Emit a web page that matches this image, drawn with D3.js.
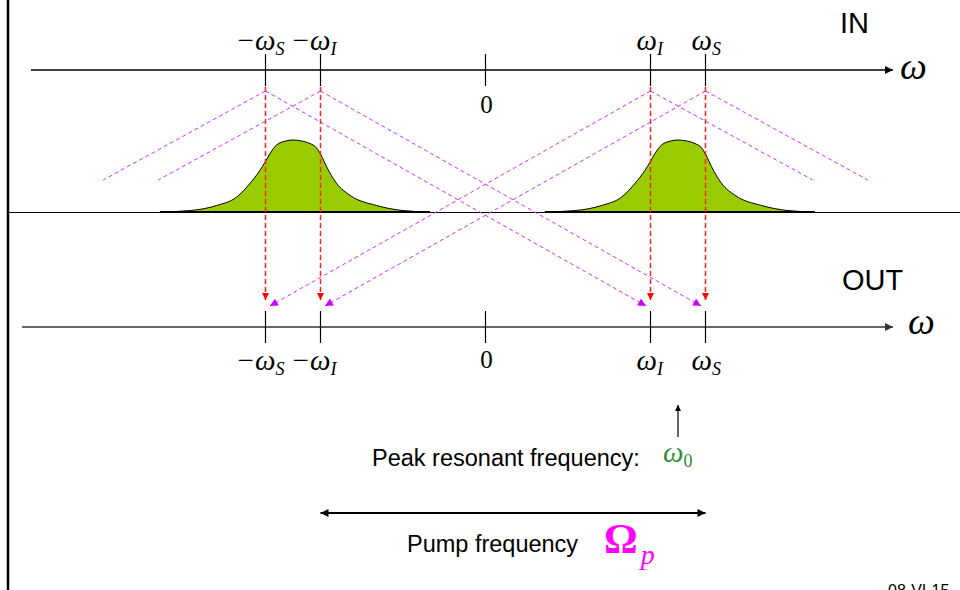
<!DOCTYPE html>
<html>
<head>
<meta charset="utf-8">
<script src="https://cdn.jsdelivr.net/npm/d3@7"></script>
<style>
  body { margin: 0; background: #fff; }
  svg { display: block; }
  .serif { font-family: "Liberation Serif", "Times New Roman", serif; }
  .sans { font-family: "Liberation Sans", Arial, sans-serif; }
</style>
</head>
<body>
<svg id="chart"></svg>
<script>
const width = 960;
const height = 590;

// frequencies in arbitrary units (omega_I = 3, omega_S = 4)
const ticks = [
    { v: -4, label: "\u2212\u03c9", sub: "S" },
    { v: -3, label: "\u2212\u03c9", sub: "I" },
    { v: 0, label: "0" },
    { v: 3, label: "\u03c9", sub: "I" },
    { v: 4, label: "\u03c9", sub: "S" }
];
const signalFreqs = [-4, -3, 3, 4];
const bumpCenters = [-3.5, 3.5];
// spectrum profile: offset from centre (units) and relative height
const bumpOffsets = [-2.42, -1.87, -1.39, -1.02, -0.78, -0.60, -0.51, -0.42, -0.30, -0.11, 0, 0.13, 0.31, 0.43, 0.51, 0.61, 0.79, 1.04, 1.52, 2.0, 2.49];
const bumpHeights = [0, 0.02, 0.09, 0.21, 0.40, 0.58, 0.69, 0.81, 0.93, 0.99, 1.0, 0.99, 0.95, 0.89, 0.79, 0.63, 0.40, 0.23, 0.09, 0.02, 0];
// idler conversion: input frequency -> output frequency
const conversions = [
    { from: -4, to: 3 },
    { from: -3, to: 4 },
    { from: 3, to: -4 },
    { from: 4, to: -3 }
];
const omega0 = 3.5;
const pumpSpan = [-3, 4];

const yIn = 70, yOut = 327, yBase = 212;
const yApex = 91, yExt = 180, yRedEnd = 300, yMagEnd = 306;

const x = d3.scaleLinear().domain([-8, 8]).range([45.5, 925.5]);
const y = d3.scaleLinear().domain([0, 1]).range([yBase, 140]);

const svg = d3.select("#chart")
    .attr("width", width)
    .attr("height", height);

const defs = svg.append("defs");
function marker(id, color, w, h) {
    defs.append("marker")
        .attr("id", id)
        .attr("viewBox", "0 0 10 10")
        .attr("refX", 10).attr("refY", 5)
        .attr("markerUnits", "userSpaceOnUse")
        .attr("markerWidth", w).attr("markerHeight", h)
        .attr("orient", "auto-start-reverse")
        .append("path")
        .attr("d", "M0,0L10,5L0,10Z")
        .attr("fill", color);
}
marker("arrowBlack", "#000", 11, 8);
marker("arrowGray", "#333", 11, 8);
marker("arrowPump", "#000", 10, 8);
marker("arrowRed", "#ff0000", 8, 7);
marker("arrowMag", "#cc00ff", 9, 8);
marker("arrowSmall", "#000", 8, 6);

// frame
svg.append("line")
    .attr("x1", 8).attr("x2", 8).attr("y1", 0).attr("y2", height)
    .attr("stroke", "#000").attr("stroke-width", 2.5);
svg.append("line")
    .attr("x1", 9).attr("x2", width).attr("y1", yBase + 0.5).attr("y2", yBase + 0.5)
    .attr("stroke", "#000").attr("stroke-width", 1);

// magenta dashed conversion lines
const magGroup = svg.append("g").attr("class", "conversions");
conversions.forEach(c => {
    const dir = Math.sign(c.to - c.from);
    magGroup.append("line")
        .attr("x1", x(c.from)).attr("y1", yApex)
        .attr("x2", x(c.from - dir * 2.95)).attr("y2", yExt)
        .attr("stroke", "#cc33ff").attr("stroke-width", 1)
        .attr("stroke-dasharray", "4,3");
    magGroup.append("line")
        .attr("x1", x(c.from)).attr("y1", yApex)
        .attr("x2", x(c.to - dir * 0.08)).attr("y2", yMagEnd)
        .attr("stroke", "#cc33ff").attr("stroke-width", 1)
        .attr("stroke-dasharray", "4,3")
        .attr("marker-end", "url(#arrowMag)");
});

// spectra
const area = d3.area()
    .x(d => d.x)
    .y0(y(0))
    .y1(d => y(d.h))
    .curve(d3.curveMonotoneX);
const line = d3.line()
    .x(d => d.x)
    .y(d => y(d.h))
    .curve(d3.curveMonotoneX);

bumpCenters.forEach(c => {
    const pts = bumpOffsets.map((o, i) => ({ x: x(c + o), h: bumpHeights[i] }));
    svg.append("path").datum(pts)
        .attr("d", area)
        .attr("fill", "#99cc00");
    svg.append("path").datum(pts)
        .attr("d", line)
        .attr("fill", "none")
        .attr("stroke", "#000").attr("stroke-width", 1);
    svg.append("line")
        .attr("x1", pts[0].x).attr("x2", pts[pts.length - 1].x)
        .attr("y1", y(0)).attr("y2", y(0))
        .attr("stroke", "#000").attr("stroke-width", 2);
});

// red dashed projections
svg.append("g").selectAll("line")
    .data(signalFreqs)
    .join("line")
    .attr("x1", d => x(d)).attr("x2", d => x(d))
    .attr("y1", yIn + 17).attr("y2", yRedEnd)
    .attr("stroke", "#ff2020").attr("stroke-width", 1.5)
    .attr("stroke-dasharray", "5,3")
    .attr("marker-end", "url(#arrowRed)");

// axes
function drawAxis(y0, xStart, color, labelY, omegaX, omegaY) {
    const g = svg.append("g");
    g.append("line")
        .attr("x1", xStart).attr("x2", 893)
        .attr("y1", y0).attr("y2", y0)
        .attr("stroke", color).attr("stroke-width", 1.5)
        .attr("marker-end", color === "#000" ? "url(#arrowBlack)" : "url(#arrowGray)");
    g.selectAll(".tick")
        .data(ticks)
        .join("line")
        .attr("x1", d => x(d.v)).attr("x2", d => x(d.v))
        .attr("y1", y0 - 16).attr("y2", y0 + 16)
        .attr("stroke", "#000").attr("stroke-width", 1.2);
    const t = g.selectAll(".lbl")
        .data(ticks)
        .join("text")
        .attr("class", "serif")
        .attr("x", d => d.v === 0 ? x(d.v) + 1 : x(d.v) - (d.v < 0 ? 30 : 14))
        .attr("y", d => d.v === 0 ? labelY.zero : labelY.omega)
        .attr("text-anchor", d => d.v === 0 ? "middle" : "start");
    t.append("tspan")
        .attr("font-style", d => d.v === 0 ? "normal" : "italic")
        .attr("font-size", d => d.v === 0 ? 25 : 29)
        .text(d => d.label);
    t.filter(d => d.sub).append("tspan")
        .attr("font-style", "italic")
        .attr("font-size", 18)
        .attr("dy", 5)
        .text(d => d.sub);
    g.append("text")
        .attr("class", "serif")
        .attr("x", omegaX).attr("y", omegaY)
        .attr("font-size", 38).attr("font-style", "italic")
        .text("\u03c9");
}
drawAxis(yIn, 31, "#000", { omega: 50, zero: 113 }, 900, 79);
drawAxis(yOut, 22, "#333", { omega: 370, zero: 368 }, 908, 334);

svg.append("text").attr("class", "sans")
    .attr("x", 840).attr("y", 33).attr("font-size", 29)
    .text("IN");
svg.append("text").attr("class", "sans")
    .attr("x", 842).attr("y", 290).attr("font-size", 29)
    .text("OUT");

// peak resonant frequency
svg.append("line")
    .attr("x1", x(omega0)).attr("x2", x(omega0))
    .attr("y1", 437).attr("y2", 405)
    .attr("stroke", "#000").attr("stroke-width", 1.2)
    .attr("marker-end", "url(#arrowSmall)");
svg.append("text").attr("class", "sans")
    .attr("x", 372).attr("y", 466).attr("font-size", 23.5)
    .text("Peak resonant frequency:");
const w0 = svg.append("text").attr("class", "serif")
    .attr("x", 663).attr("y", 462)
    .attr("fill", "#2e8b2e");
w0.append("tspan").attr("font-size", 29).attr("font-style", "italic").text("\u03c9");
w0.append("tspan").attr("font-size", 18).attr("dy", 5).text("0");

// pump frequency span
svg.append("line")
    .attr("x1", x(pumpSpan[0])).attr("x2", x(pumpSpan[1]))
    .attr("y1", 513).attr("y2", 513)
    .attr("stroke", "#000").attr("stroke-width", 2.2)
    .attr("marker-start", "url(#arrowPump)")
    .attr("marker-end", "url(#arrowPump)");
svg.append("text").attr("class", "sans")
    .attr("x", 407).attr("y", 552).attr("font-size", 23.5)
    .text("Pump frequency");
const op = svg.append("text").attr("class", "serif")
    .attr("x", 604).attr("y", 553)
    .attr("fill", "#ff00ff");
op.append("tspan").attr("font-size", 42).attr("font-weight", "bold").text("\u03a9");
op.append("tspan").attr("font-size", 28).attr("font-style", "italic").attr("dx", 3).attr("dy", 11).text("p");

svg.append("text").attr("class", "sans")
    .attr("x", 888).attr("y", 596).attr("font-size", 16)
    .text("08-VI-15");
</script>
</body>
</html>
